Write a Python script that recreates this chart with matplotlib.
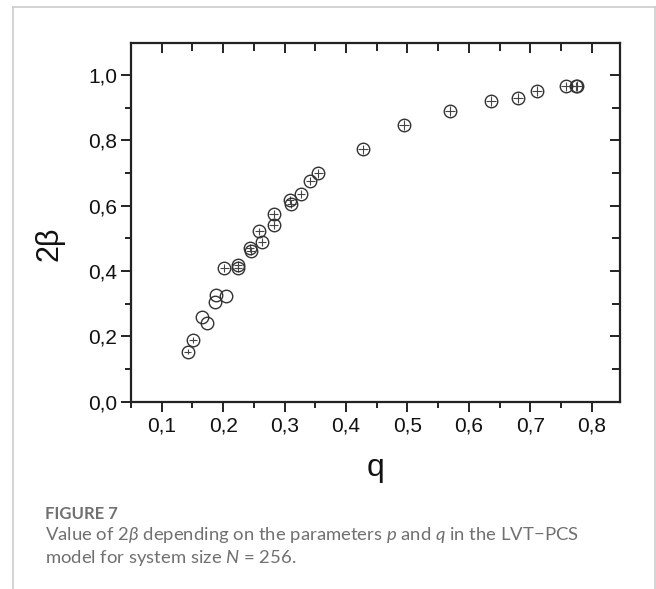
import matplotlib
matplotlib.use("Agg")
import matplotlib.pyplot as plt
from matplotlib.lines import Line2D
from matplotlib.ticker import MultipleLocator, FuncFormatter

# values
q = [0.142, 0.151, 0.165, 0.173, 0.186, 0.189, 0.205, 0.202, 0.224, 0.224,
     0.244, 0.245, 0.259, 0.263, 0.282, 0.282, 0.309, 0.311, 0.327, 0.342,
     0.355, 0.427, 0.495, 0.569, 0.636, 0.680, 0.711, 0.758, 0.774, 0.776]
beta2 = [0.153, 0.189, 0.260, 0.242, 0.306, 0.327, 0.324, 0.410, 0.418, 0.408,
         0.471, 0.461, 0.521, 0.488, 0.575, 0.542, 0.617, 0.604, 0.635, 0.675,
         0.699, 0.772, 0.846, 0.891, 0.921, 0.930, 0.951, 0.965, 0.965, 0.967]
# half-widths of the small error crosses inside the circles
q_err = [0.006, 0.006, 0, 0, 0, 0, 0, 0.007, 0.007, 0.007,
         0.007, 0.007, 0.007, 0.007, 0.007, 0.007, 0.007, 0.007, 0.007, 0.007,
         0.007, 0.008, 0.008, 0.008, 0.008, 0.008, 0.008, 0.008, 0.008, 0.008]
beta_err = [0.008, 0.008, 0, 0, 0, 0, 0, 0.012, 0.012, 0.012,
            0.012, 0.012, 0.012, 0.012, 0.012, 0.012, 0.012, 0.012, 0.012, 0.012,
            0.014, 0.015, 0.015, 0.015, 0.015, 0.015, 0.015, 0.015, 0.015, 0.015]

caption_title = "FIGURE 7"
caption_l1 = r"Value of 2$\beta$ depending on the parameters $p$ and $q$ in the LVT$-$PCS"
caption_l2 = r"model for system size $N$ = 256."

plt.rcParams['font.family'] = ['Liberation Sans', 'DejaVu Sans']
plt.rcParams['mathtext.fontset'] = 'custom'
plt.rcParams['mathtext.rm'] = 'Lato'
plt.rcParams['mathtext.it'] = 'Lato:italic'

my_dpi = 100
fig = plt.figure(figsize=(656/my_dpi, 589/my_dpi), dpi=my_dpi)
W, H = 656.0, 589.0
ax = fig.add_axes([131/W, 1-401.7/H, 489/W, 358.7/H])

axcol = '#222222'
ax.errorbar(q, beta2, xerr=q_err, yerr=beta_err, fmt='none',
            ecolor='#444444', elinewidth=0.8, capsize=0, zorder=2)
ax.plot(q, beta2, 'o', ms=9, mfc='none', mec='#333333', mew=1.0, zorder=3)

ax.set_xlim(0.05, 0.846)
ax.set_ylim(0.0, 1.098)
ax.xaxis.set_major_locator(MultipleLocator(0.1))
ax.xaxis.set_minor_locator(MultipleLocator(0.05))
ax.yaxis.set_major_locator(MultipleLocator(0.2))
ax.yaxis.set_minor_locator(MultipleLocator(0.1))
comma = FuncFormatter(lambda v, p: ('%.1f' % v).replace('.', ','))
ax.xaxis.set_major_formatter(comma)
ax.yaxis.set_major_formatter(comma)
ax.set_xticks([t/10 for t in range(1, 9)])

for s in ax.spines.values():
    s.set_linewidth(1.6)
    s.set_color(axcol)
ax.tick_params(which='both', direction='out', colors=axcol, width=1.4,
               labelsize=15, labelcolor='#111111')
ax.tick_params(which='major', length=7)
ax.tick_params(which='minor', length=4)
ax.tick_params(axis='x', pad=4)
ax.tick_params(axis='y', pad=3)

# mirrored ticks on top and right, pointing into the plot
axt = ax.secondary_xaxis('top')
axt.xaxis.set_major_locator(MultipleLocator(0.1))
axt.xaxis.set_minor_locator(MultipleLocator(0.05))
axt.tick_params(which='both', direction='in', labeltop=False, colors=axcol, width=1.4)
axt.tick_params(which='major', length=7)
axt.tick_params(which='minor', length=6)
axr = ax.secondary_yaxis('right')
axr.yaxis.set_major_locator(MultipleLocator(0.2))
axr.yaxis.set_minor_locator(MultipleLocator(0.1))
axr.tick_params(which='both', direction='in', labelright=False, colors=axcol, width=1.4)
axr.tick_params(which='major', length=7)
axr.tick_params(which='minor', length=6)
for sa in (axt, axr):
    for s in sa.spines.values():
        s.set_visible(False)

ax.set_xlabel('q', fontsize=23, color='#111111', labelpad=12)
ax.set_ylabel('2β', fontsize=22, color='#111111')
ax.yaxis.set_label_coords(-0.135, 0.44)

# card border
border = '#cccccc'
fig.add_artist(Line2D([13/W, 13/W], [0, 1-7/H], color=border, lw=1.2))
fig.add_artist(Line2D([13/W, 655/W], [1-7/H, 1-7/H], color=border, lw=1.2))
fig.add_artist(Line2D([655/W, 655/W], [0, 1-7/H], color=border, lw=1.2))

fig.text(45/W, 1-519/H, caption_title, fontsize=12, fontweight='bold',
         color='#707070', family=['Lato', 'DejaVu Sans'])
fig.text(45/W, 1-540/H, caption_l1, fontsize=13.3, color='#707070',
         family=['Lato', 'DejaVu Sans'])
fig.text(45/W, 1-563/H, caption_l2, fontsize=13.3, color='#707070',
         family=['Lato', 'DejaVu Sans'])

fig.savefig('out.png', dpi=my_dpi)
